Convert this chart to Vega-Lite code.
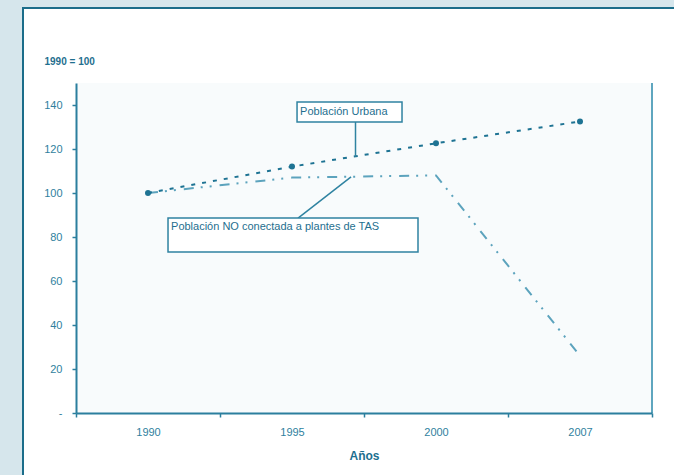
{
  "$schema": "https://vega.github.io/schema/vega-lite/v6.json",
  "width": 654,
  "height": 470,
  "autosize": "none",
  "padding": {"left": 23, "top": 8, "right": 0, "bottom": 0},
  "background": "#d6e6ec",
  "config": {
    "view": {"fill": "#ffffff", "stroke": "#1b6d8a", "strokeWidth": 2},
    "font": "Liberation Sans"
  },
  "datasets": {
    "series": [
      {"anio": "1990", "orden": 1, "serie": "Urbana", "indice": 100},
      {"anio": "1995", "orden": 2, "serie": "Urbana", "indice": 112},
      {"anio": "2000", "orden": 3, "serie": "Urbana", "indice": 122.6},
      {"anio": "2007", "orden": 4, "serie": "Urbana", "indice": 132.5},
      {"anio": "1990", "orden": 1, "serie": "NO conectada", "indice": 100},
      {"anio": "1995", "orden": 2, "serie": "NO conectada", "indice": 107},
      {"anio": "2000", "orden": 3, "serie": "NO conectada", "indice": 108},
      {"anio": "2007", "orden": 4, "serie": "NO conectada", "indice": 26}
    ],
    "notas": [
      {"texto": "Población Urbana", "x1": 2.035, "x2": 2.764, "y1": 132.3, "y2": 141.4, "tx": 2.056, "ty": 137, "lx1": 2.441, "ly1": 132.3, "lx2": 2.441, "ly2": 116.5},
      {"texto": "Población NO conectada a plantes de TAS", "x1": 1.139, "x2": 2.875, "y1": 73.2, "y2": 88.6, "tx": 1.16, "ty": 84.5, "lx1": 2.042, "ly1": 88.6, "lx2": 2.41, "ly2": 107.3}
    ]
  },
  "layer": [
    {
      "data": {"values": [{}]},
      "mark": {"type": "rect", "fill": "#f8fbfc"},
      "encoding": {
        "x": {"datum": 0.5, "type": "quantitative", "scale": {"domain": [0.5, 4.5], "range": [53, 629], "nice": false, "zero": false}},
        "x2": {"datum": 4.5},
        "y": {"datum": 0, "type": "quantitative", "scale": {"domain": [0, 150], "range": [405, 75], "nice": false, "zero": false}},
        "y2": {"datum": 150}
      }
    },
    {
      "data": {"values": [{}]},
      "mark": {"type": "rule", "color": "#5fa6bf", "strokeWidth": 2},
      "encoding": {
        "x": {"datum": 4.5, "type": "quantitative"},
        "y": {"datum": 0, "type": "quantitative"},
        "y2": {"datum": 150}
      }
    },
    {
      "data": {"name": "series"},
      "transform": [{"filter": "datum.serie == 'NO conectada'"}],
      "mark": {"type": "line", "color": "#5ca3bd", "strokeWidth": 2, "strokeDash": [10, 7, 2, 7, 2, 8]},
      "encoding": {
        "x": {
          "field": "orden", "type": "quantitative",
          "axis": {
            "title": "Años",
            "values": [0.5, 1, 1.5, 2, 2.5, 3, 3.5, 4, 4.5],
            "labelExpr": "datum.value == 1 ? '1990' : datum.value == 2 ? '1995' : datum.value == 3 ? '2000' : datum.value == 4 ? '2007' : ''",
            "tickOpacity": {"condition": {"test": "datum.value % 1 == 0", "value": 0}, "value": 1},
            "offset": -65,
            "grid": false,
            "zindex": 1,
            "domainColor": "#2b7f9e",
            "domainWidth": 2,
            "tickColor": "#2b7f9e",
            "tickWidth": 1.5,
            "tickSize": 4,
            "labelColor": "#2f7f9e",
            "labelFontSize": 11,
            "labelPadding": 9,
            "labelFlush": false,
            "labelOverlap": false,
            "titleColor": "#1d6f8f",
            "titleFontSize": 12,
            "titleFontWeight": "bold",
            "titlePadding": 13
          }
        },
        "y": {
          "field": "indice", "type": "quantitative",
          "axis": {
            "title": "1990 = 100",
            "titleAngle": 0,
            "titleAlign": "left",
            "titleBaseline": "middle",
            "titleX": -32,
            "titleY": 53,
            "titleFontSize": 10,
            "titleFontWeight": "bold",
            "titleColor": "#1f6f8f",
            "values": [0, 20, 40, 60, 80, 100, 120, 140],
            "labelExpr": "datum.value == 0 ? '-' : datum.label",
            "offset": -53,
            "grid": false,
            "zindex": 1,
            "domainColor": "#2b7f9e",
            "domainWidth": 2,
            "tickColor": "#2b7f9e",
            "tickWidth": 1.5,
            "tickSize": 4,
            "labelColor": "#2f7f9e",
            "labelFontSize": 11,
            "labelPadding": 10
          }
        }
      }
    },
    {
      "data": {"name": "series"},
      "transform": [{"filter": "datum.serie == 'Urbana'"}],
      "mark": {"type": "line", "color": "#1e7393", "strokeWidth": 2, "strokeDash": [4, 7]},
      "encoding": {
        "x": {"field": "orden", "type": "quantitative"},
        "y": {"field": "indice", "type": "quantitative"}
      }
    },
    {
      "data": {"name": "series"},
      "transform": [{"filter": "datum.serie == 'Urbana'"}],
      "mark": {"type": "point", "filled": true, "color": "#1e7393", "size": 36, "opacity": 1},
      "encoding": {
        "x": {"field": "orden", "type": "quantitative"},
        "y": {"field": "indice", "type": "quantitative"}
      }
    },
    {
      "data": {"name": "notas"},
      "mark": {"type": "rule", "color": "#2f83a1", "strokeWidth": 1.5},
      "encoding": {
        "x": {"field": "lx1", "type": "quantitative"},
        "x2": {"field": "lx2"},
        "y": {"field": "ly1", "type": "quantitative"},
        "y2": {"field": "ly2"}
      }
    },
    {
      "data": {"name": "notas"},
      "mark": {"type": "rect", "fill": "#ffffff", "stroke": "#2f83a1", "strokeWidth": 1.5},
      "encoding": {
        "x": {"field": "x1", "type": "quantitative"},
        "x2": {"field": "x2"},
        "y": {"field": "y1", "type": "quantitative"},
        "y2": {"field": "y2"}
      }
    },
    {
      "data": {"name": "notas"},
      "mark": {"type": "text", "align": "left", "baseline": "middle", "fontSize": 11, "color": "#1f6f8f"},
      "encoding": {
        "x": {"field": "tx", "type": "quantitative"},
        "y": {"field": "ty", "type": "quantitative"},
        "text": {"field": "texto"}
      }
    }
  ]
}
